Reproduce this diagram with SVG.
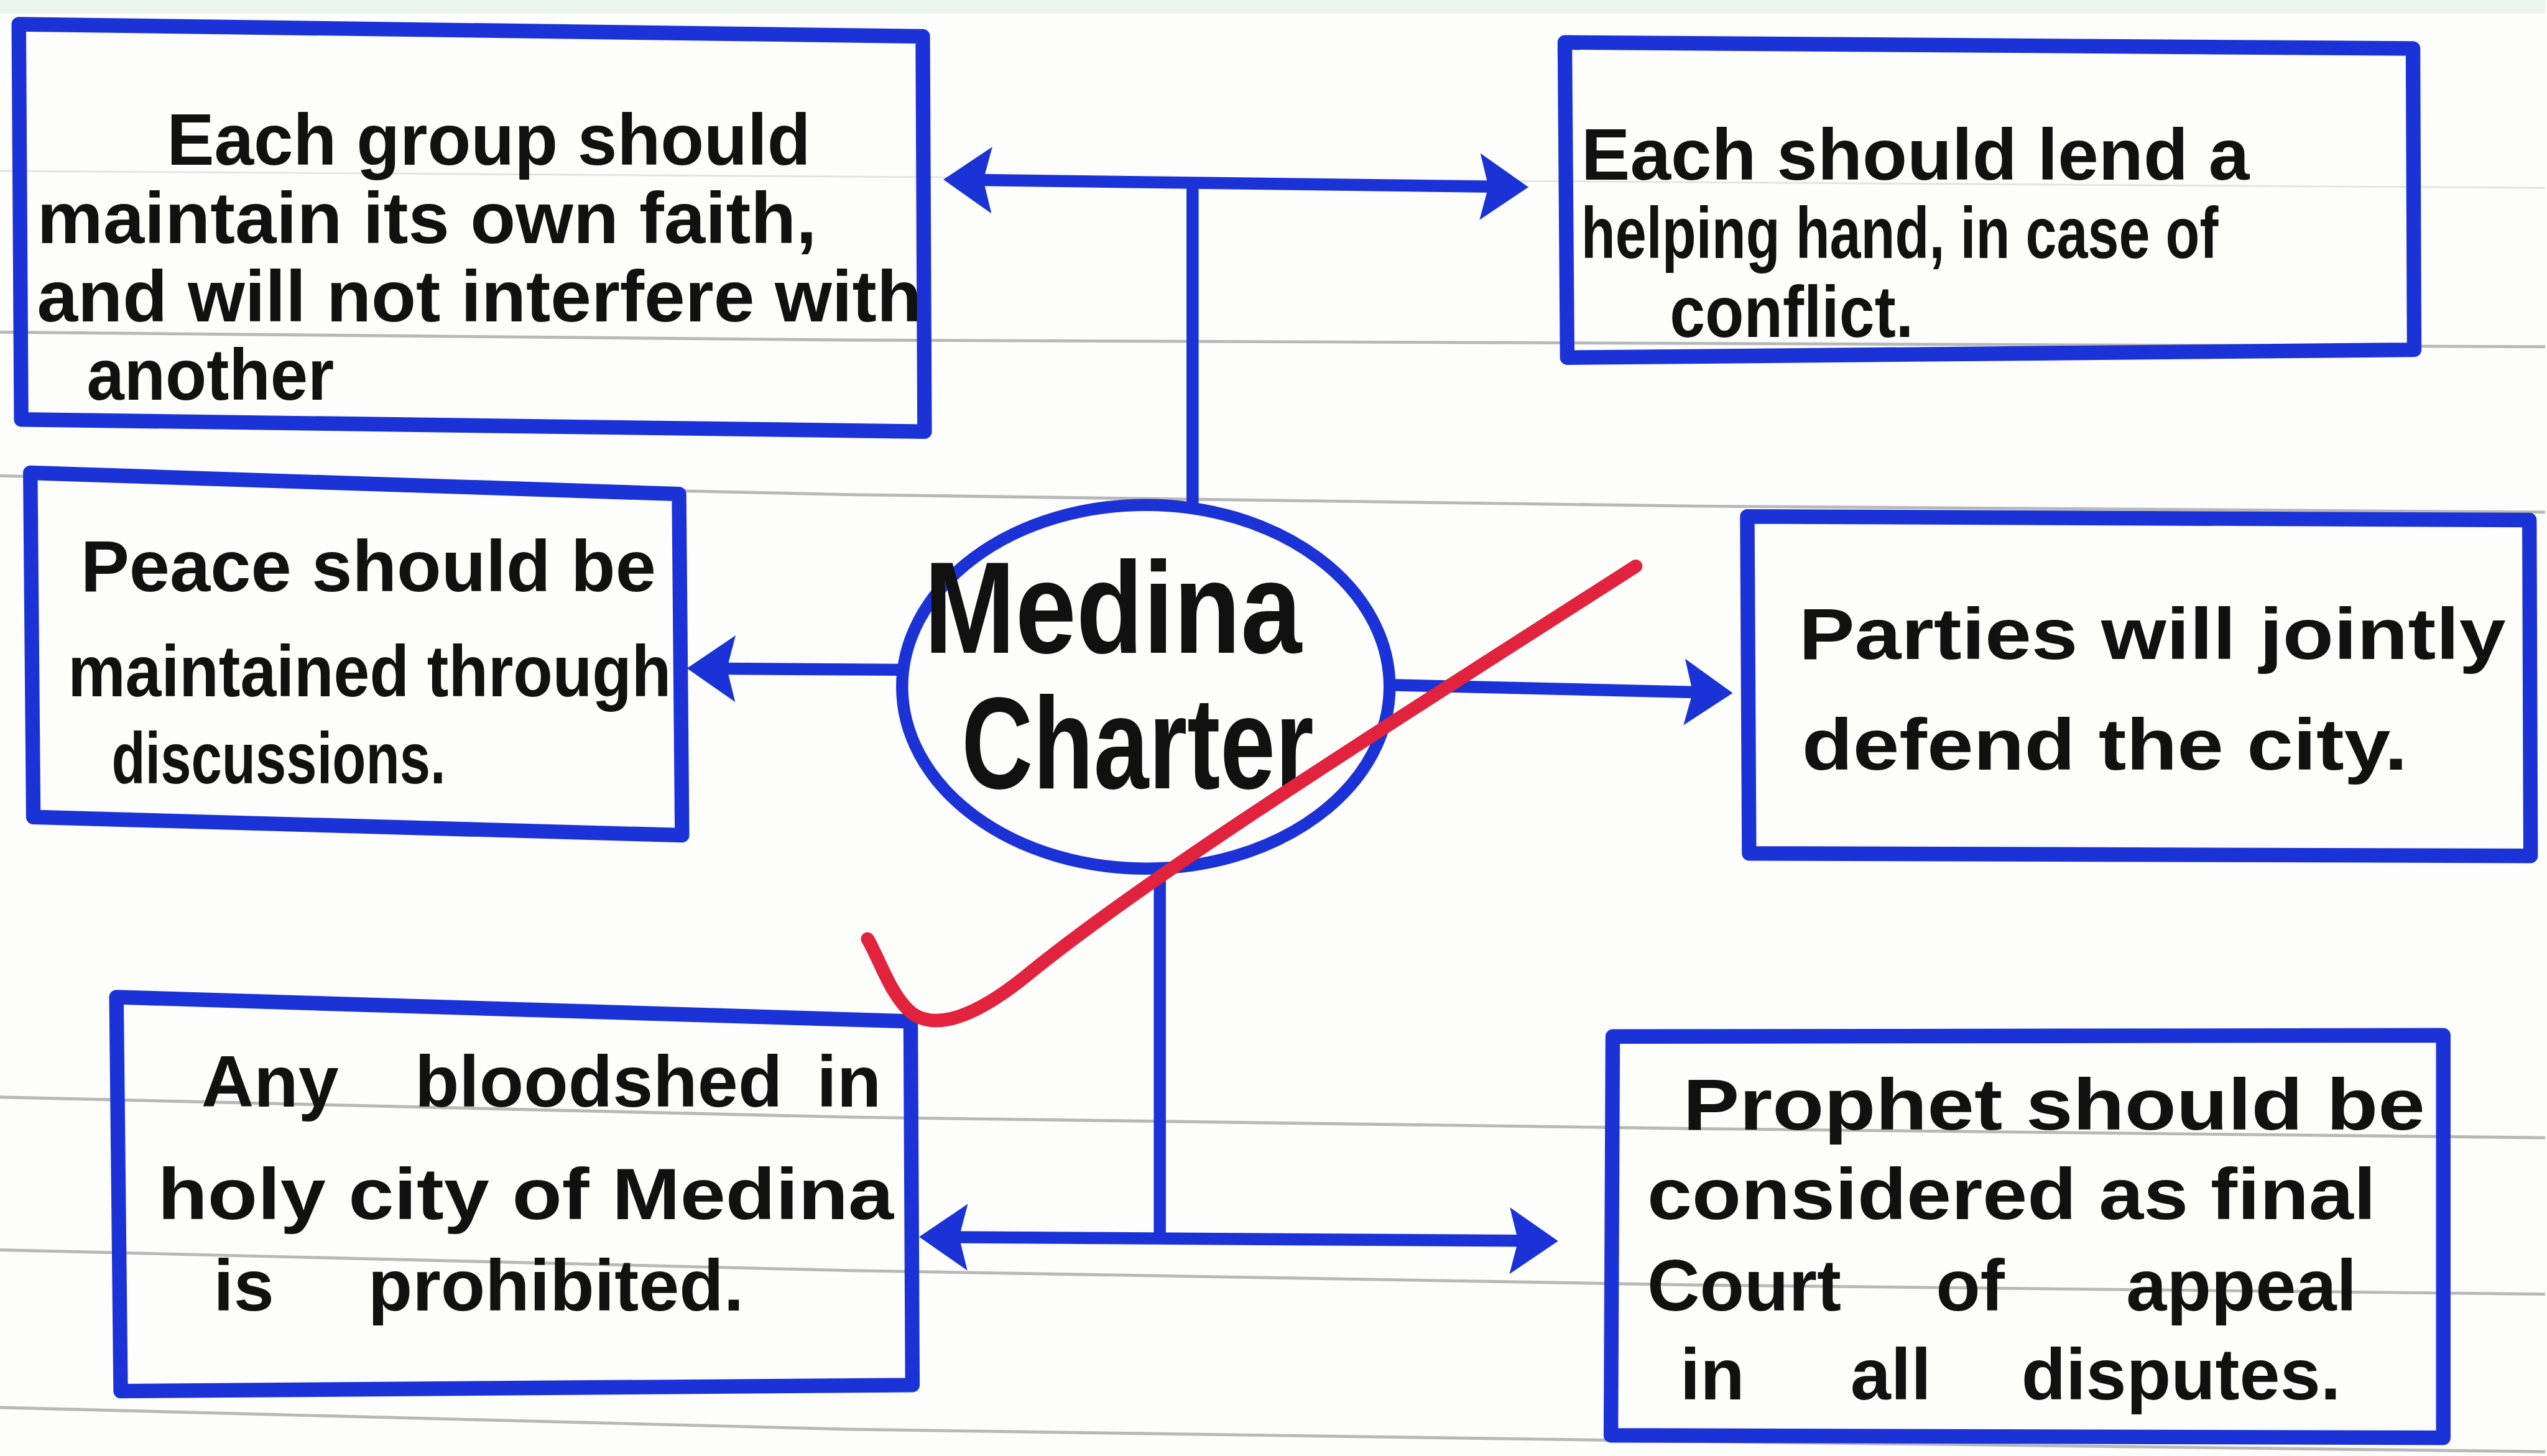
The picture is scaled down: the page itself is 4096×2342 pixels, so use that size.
<svg xmlns="http://www.w3.org/2000/svg" width="4096" height="2342" viewBox="0 0 4096 2342">
<defs>
<style>
.box{fill:none;stroke:#1b33d6;stroke-width:24;stroke-linejoin:round;stroke-linecap:round}
.conn{fill:none;stroke:#1b33d6;stroke-width:20;stroke-linecap:butt}
.rule{fill:none;stroke:#9a9a9a;stroke-width:5;opacity:.7}
.faint{fill:none;stroke:#c4c4c4;stroke-width:3;opacity:.45}
.t{font-family:"Liberation Sans",Arial,sans-serif;font-weight:bold;font-size:120px;fill:#111}
.c{font-size:215px}
.check{fill:none;stroke:#e2233d;stroke-width:22;stroke-linecap:round;stroke-linejoin:round}
</style>
<marker id="ah" viewBox="0 0 80 110" refX="20" refY="55" markerWidth="80" markerHeight="110" markerUnits="userSpaceOnUse" orient="auto-start-reverse">
<path d="M0,0 L80,55 L0,110 L14,55 Z" fill="#1b33d6"/>
</marker>
</defs>
<rect x="0" y="0" width="4096" height="2342" fill="#fdfdfb"/>
<g transform="scale(0.975)">
<g id="paper">
<rect x="0" y="0" width="4198" height="22" fill="#e9f5ec"/>
<polyline class="faint" points="0,282 4198,310"/>
<polyline class="rule" points="0,548 1400,561 4198,572"/>
<polyline class="rule" points="0,785 1400,816 2800,835 4198,845"/>
<polyline class="rule" points="0,1810 1400,1843 2800,1862 4198,1877"/>
<polyline class="rule" points="0,2062 1400,2096 2800,2120 4198,2135"/>
<polyline class="rule" points="0,2322 1400,2358 2800,2378 4198,2395"/>
</g>

<g id="connectors">
<line class="conn" x1="1616" y1="297" x2="2461" y2="308" marker-start="url(#ah)" marker-end="url(#ah)"/>
<line class="conn" x1="1967" y1="300" x2="1967" y2="836"/>
<line class="conn" x1="1487" y1="1105" x2="1193" y2="1103" marker-end="url(#ah)"/>
<line class="conn" x1="2292" y1="1130" x2="2798" y2="1142" marker-end="url(#ah)"/>
<line class="conn" x1="1913" y1="1430" x2="1913" y2="2044"/>
<line class="conn" x1="1576" y1="2041" x2="2510" y2="2047" marker-start="url(#ah)" marker-end="url(#ah)"/>
</g>

<g id="node-faith">
<polygon class="box" points="31,40 1522,60 1525,712 35,692"/>
<text class="t" x="275" y="272" textLength="1062" lengthAdjust="spacingAndGlyphs">Each group should</text>
<text class="t" x="61" y="401" textLength="1286" lengthAdjust="spacingAndGlyphs">maintain its own faith,</text>
<text class="t" x="61" y="530" textLength="1459" lengthAdjust="spacingAndGlyphs">and will not interfere with</text>
<text class="t" x="143" y="660" textLength="408" lengthAdjust="spacingAndGlyphs">another</text>
</g>

<g id="node-help">
<polygon class="box" points="2581,70 3980,80 3982,577 2585,590"/>
<text class="t" x="2608" y="296" textLength="1102" lengthAdjust="spacingAndGlyphs">Each should lend a</text>
<text class="t" x="2608" y="426" textLength="1051" lengthAdjust="spacingAndGlyphs">helping hand, in case of</text>
<text class="t" x="2754" y="556" textLength="402" lengthAdjust="spacingAndGlyphs">conflict.</text>
</g>

<g id="node-peace">
<polygon class="box" points="50,780 1120,815 1125,1378 55,1348"/>
<text class="t" x="133" y="975" textLength="949" lengthAdjust="spacingAndGlyphs">Peace should be</text>
<text class="t" x="112" y="1149" textLength="995" lengthAdjust="spacingAndGlyphs">maintained through</text>
<text class="t" x="184" y="1292" textLength="551" lengthAdjust="spacingAndGlyphs">discussions.</text>
</g>

<g id="node-charter">
<ellipse cx="1890" cy="1133" rx="402" ry="300" fill="none" stroke="#1b33d6" stroke-width="20"/>
<text class="t c" x="1524" y="1077" textLength="623" lengthAdjust="spacingAndGlyphs">Medina</text>
<text class="t c" x="1586" y="1301" textLength="581" lengthAdjust="spacingAndGlyphs">Charter</text>
</g>

<g id="node-defend">
<polygon class="box" points="2882,852 4172,858 4174,1412 2885,1408"/>
<text class="t" x="2967" y="1087" textLength="1166" lengthAdjust="spacingAndGlyphs">Parties will jointly</text>
<text class="t" x="2972" y="1270" textLength="999" lengthAdjust="spacingAndGlyphs">defend the city.</text>
</g>

<g id="node-bloodshed">
<polygon class="box" points="192,1645 1502,1685 1505,2285 199,2295"/>
<text class="t" y="1826"><tspan x="332">Any</tspan><tspan x="684">bloodshed</tspan><tspan x="1347">in</tspan></text>
<text class="t" x="260" y="2011" textLength="1214" lengthAdjust="spacingAndGlyphs">holy city of Medina</text>
<text class="t" y="2162"><tspan x="352">is</tspan><tspan x="607">prohibited.</tspan></text>
</g>

<g id="node-prophet">
<polygon class="box" points="2660,1710 4030,1708 4030,2372 2657,2368"/>
<text class="t" x="2776" y="1864" textLength="1224" lengthAdjust="spacingAndGlyphs">Prophet should be</text>
<text class="t" x="2717" y="2011" textLength="1202" lengthAdjust="spacingAndGlyphs">considered as final</text>
<text class="t" y="2162"><tspan x="2717">Court</tspan><tspan x="3193">of</tspan><tspan x="3507">appeal</tspan></text>
<text class="t" y="2309"><tspan x="2771">in</tspan><tspan x="3052">all</tspan><tspan x="3334">disputes.</tspan></text>
</g>

<g id="checkmark">
<path class="check" d="M2698,934 C2300,1190 1900,1440 1690,1612 C1610,1676 1545,1700 1505,1672 C1470,1645 1452,1585 1431,1549"/>
</g>
</g>
</svg>
